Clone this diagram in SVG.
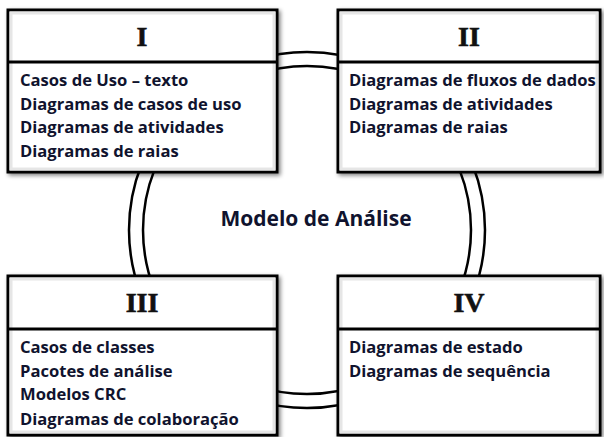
<svg xmlns="http://www.w3.org/2000/svg" width="604" height="437" viewBox="0 0 604 437">
<defs>
<filter id="sh" x="-10%" y="-10%" width="120%" height="120%">
<feGaussianBlur in="SourceAlpha" stdDeviation="2"/>
<feOffset dx="2" dy="2" result="b"/>
<feComponentTransfer><feFuncA type="linear" slope="0.5"/></feComponentTransfer>
<feMerge><feMergeNode/><feMergeNode in="SourceGraphic"/></feMerge>
</filter>
</defs>
<style>
.box{fill:#fff;stroke:#000;stroke-width:3}
.inner{fill:none;stroke:#e6e6e6;stroke-width:3}
.div{stroke:#000;stroke-width:3}
.ring{fill:none;stroke:#000;stroke-width:2.5}
.num{font-family:"Liberation Serif",serif;font-weight:bold;font-size:28px;fill:#111;text-anchor:middle;stroke:#111;stroke-width:0.6}
.t{font-family:"Open Sans",sans-serif;font-weight:bold;font-size:16.6px;fill:#10132e}
.title{font-family:"Open Sans",sans-serif;font-weight:bold;font-size:21px;fill:#10132e;text-anchor:middle}
</style>
<rect width="604" height="437" fill="#fff"/>
<g id="connectors">
<circle class="ring" cx="307" cy="230" r="178"/>
<circle class="ring" cx="307" cy="230" r="164"/>
</g>
<g id="center-label">
<text class="title" x="316" y="226">Modelo de Análise</text>
</g>
<g id="node-I">
<rect class="box" x="8" y="10" width="269" height="162" filter="url(#sh)"/>
<rect class="inner" x="11" y="13" width="263" height="156"/>
<line class="div" x1="8" y1="62" x2="277" y2="62"/>
<text class="num" x="142" y="46">I</text>
<text class="t" x="20" y="86">Casos de Uso – texto</text>
<text class="t" x="20" y="109.5">Diagramas de casos de uso</text>
<text class="t" x="20" y="133">Diagramas de atividades</text>
<text class="t" x="20" y="156.5">Diagramas de raias</text>
</g>
<g id="node-II">
<rect class="box" x="338" y="10" width="262" height="162" filter="url(#sh)"/>
<rect class="inner" x="341" y="13" width="256" height="156"/>
<line class="div" x1="338" y1="62" x2="600" y2="62"/>
<text class="num" x="469" y="46">II</text>
<text class="t" x="349" y="86">Diagramas de fluxos de dados</text>
<text class="t" x="349" y="109.5">Diagramas de atividades</text>
<text class="t" x="349" y="133">Diagramas de raias</text>
</g>
<g id="node-III">
<rect class="box" x="8" y="276" width="269" height="159" filter="url(#sh)"/>
<rect class="inner" x="11" y="279" width="263" height="153"/>
<line class="div" x1="8" y1="329" x2="277" y2="329"/>
<text class="num" x="142" y="312">III</text>
<text class="t" x="20" y="353">Casos de classes</text>
<text class="t" x="20" y="377">Pacotes de análise</text>
<text class="t" x="20" y="400">Modelos CRC</text>
<text class="t" x="20" y="425">Diagramas de colaboração</text>
</g>
<g id="node-IV">
<rect class="box" x="338" y="276" width="262" height="159" filter="url(#sh)"/>
<rect class="inner" x="341" y="279" width="256" height="153"/>
<line class="div" x1="338" y1="329" x2="600" y2="329"/>
<text class="num" x="469" y="312">IV</text>
<text class="t" x="349" y="353">Diagramas de estado</text>
<text class="t" x="349" y="377">Diagramas de sequência</text>
</g>
</svg>
